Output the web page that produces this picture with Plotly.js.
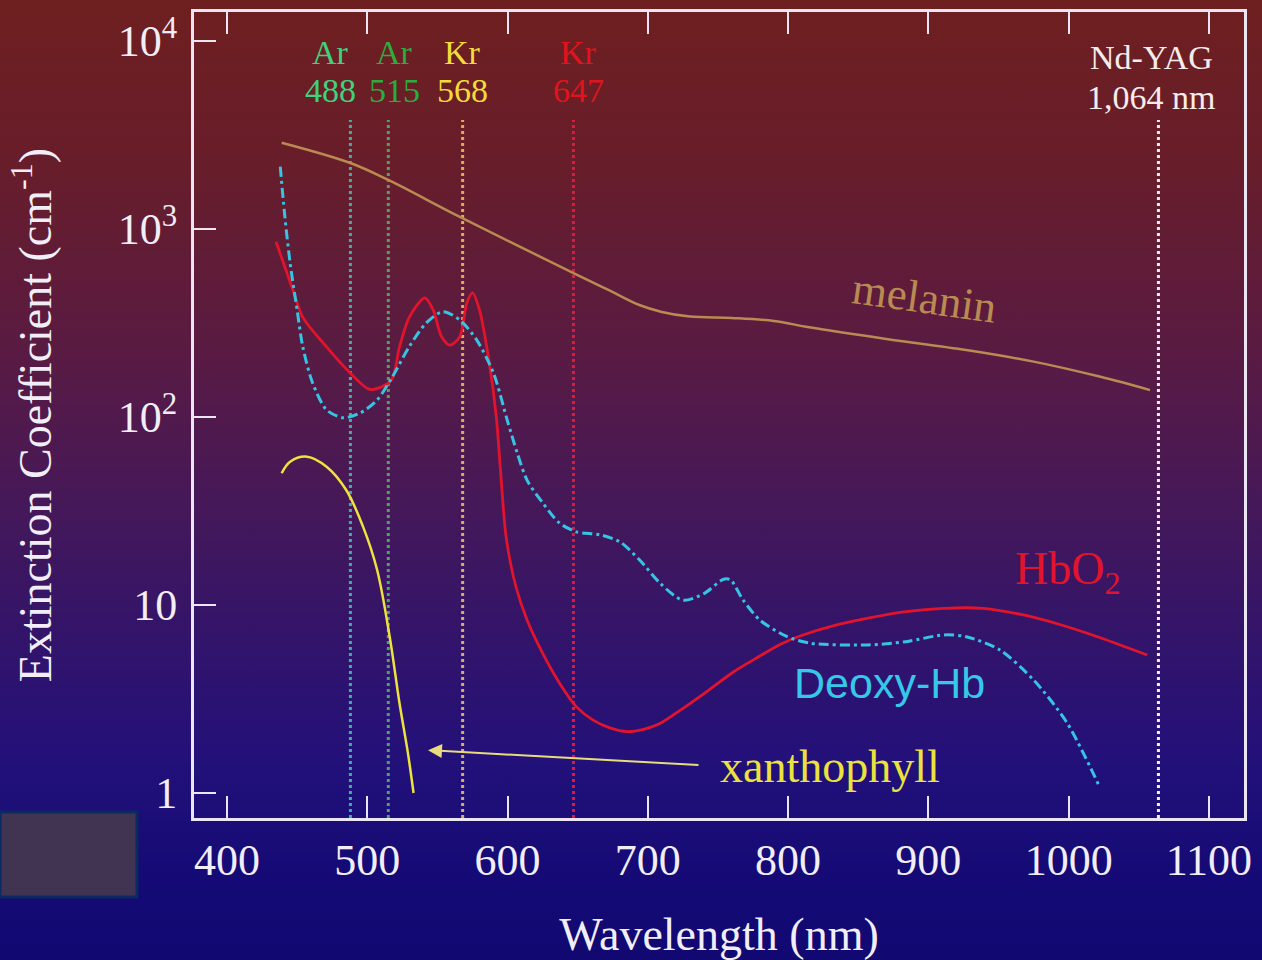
<!DOCTYPE html>
<html>
<head>
<meta charset="utf-8">
<script src="https://cdn.plot.ly/plotly-3.0.1.min.js"></script>
<style>
html,body{margin:0;padding:0;}
body{width:1262px;height:960px;overflow:hidden;
background:linear-gradient(to bottom,#6e1f1f 0%,#671d2b 18%,#5a1b42 36%,#461858 52%,#33146a 66%,#22107a 80%,#160b76 90%,#110872 100%);}
#chart{width:1262px;height:960px;}
</style>
</head>
<body>
<div id="chart"></div>
<script>
// ---- data ----
const melaninNm  = [439, 488, 515, 566, 647, 673, 694, 710, 730, 760, 790, 815, 870, 927, 975, 1022, 1058];
const melaninVal = [2878, 2244, 1823, 1159, 583, 470, 394, 362, 342, 336, 324, 300, 260, 227, 197, 164, 139];

const hbo2Nm  = [435, 447, 454, 471, 488, 502, 517, 523, 530, 541, 547, 553, 559, 566, 571, 575, 580, 587, 592, 595, 599, 606, 614, 625, 637, 649, 661, 673, 685, 697, 709, 723, 744, 761, 779, 795, 810, 830, 857, 884, 911, 939, 966, 993, 1020, 1056];
const hbo2Val = [856, 474, 340, 236, 171, 140, 156, 236, 340, 430, 371, 267, 241, 267, 404, 457, 371, 194, 100, 52, 23, 12.5, 8.3, 5.55, 3.85, 2.88, 2.44, 2.22, 2.12, 2.18, 2.35, 2.75, 3.55, 4.4, 5.3, 6.2, 6.9, 7.67, 8.5, 9.21, 9.6, 9.6, 8.9, 7.9, 6.8, 5.42];

const deoxyNm  = [438, 441, 445, 450, 454, 461, 471, 483, 495, 507, 518, 530, 542, 554, 566, 578, 590, 600, 607, 614, 625, 637, 649, 666, 680, 694, 709, 725, 740, 754, 759, 768, 780, 799, 816, 857, 884, 911, 927, 951, 975, 999, 1022];
const deoxyVal = [2144, 1217, 660, 371, 237, 152, 109, 99, 105, 123, 164, 237, 316, 363, 328, 257, 171, 95, 64, 46, 35, 27.3, 24.5, 23.6, 21.7, 17.4, 13.0, 10.6, 11.5, 13.7, 13.6, 10.6, 8.3, 6.8, 6.26, 6.13, 6.38, 6.93, 6.78, 5.76, 3.99, 2.35, 1.08];

const xanthNm  = [439, 445, 457, 471, 485, 497, 507, 516, 523, 529, 533];
const xanthVal = [50.2, 57.8, 61.5, 54.4, 40.9, 26.1, 15.4, 6.78, 3.0, 1.63, 1.0];

const laserNames = ['Ar', 'Ar', 'Kr', 'Kr', 'Nd-YAG'];
const laserNm    = [488, 515, 568, 647, 1064];
const laserText  = ['488', '515', '568', '647', '1,064 nm'];

const xTickVals = [400, 500, 600, 700, 800, 900, 1000, 1100];
const yTickVals = [1, 10, 100, 1000, 10000];
const yTickText = ['1', '10', '10<sup>2</sup>', '10<sup>3</sup>', '10<sup>4</sup>'];

// ---- styles ----
const laserLineColors = ['#3cb0a2', '#52a262', '#dcae54', '#d81e40', '#f6eef2'];
const laserTextColors = ['#3fd27e', '#2eaa3e', '#f2dc3a', '#e0141e', '#f6ecec'];
const laserXShift = [-20, 6, 0, 5, -7];
const serif = 'Liberation Serif, Times New Roman, serif';
const sans = 'Liberation Sans, Arial, sans-serif';
const axisCol = '#ece6f4';

const traces = [
  {x: melaninNm, y: melaninVal, mode: 'lines', line: {color: '#b98a52', width: 2.5, shape: 'spline', smoothing: 1}, hoverinfo: 'skip'},
  {x: hbo2Nm, y: hbo2Val, mode: 'lines', line: {color: '#e2142c', width: 2.8, shape: 'spline', smoothing: 0.8}, hoverinfo: 'skip'},
  {x: deoxyNm, y: deoxyVal, mode: 'lines', line: {color: '#36c4e4', width: 3, dash: '10px,4px,3px,4px', shape: 'spline', smoothing: 0.8}, hoverinfo: 'skip'},
  {x: xanthNm, y: xanthVal, mode: 'lines', line: {color: '#eee23e', width: 2.5, shape: 'spline', smoothing: 1}, hoverinfo: 'skip'}
];

const shapes = laserNm.map((nm, i) => ({
  type: 'line', xref: 'x', yref: 'paper', x0: nm, x1: nm, y0: 0, y1: 0.866,
  line: {color: laserLineColors[i], width: 3, dash: 'dot'}, layer: 'below'
}));
shapes.push({
  type: 'rect', xref: 'paper', yref: 'paper', x0: -0.1848, x1: -0.0543, y0: -0.098, y1: 0.0074,
  fillcolor: '#403452', line: {color: '#0c2a62', width: 3}
});

const annotations = [];
laserNm.forEach((nm, i) => {
  const isYag = i === 4;
  annotations.push({x: nm, xref: 'x', yref: 'paper', y: isYag ? 0.943 : 0.950, text: laserNames[i],
    showarrow: false, xshift: laserXShift[i], yanchor: 'middle',
    font: {family: serif, size: 34, color: laserTextColors[i]}});
  annotations.push({x: nm, xref: 'x', yref: 'paper', y: isYag ? 0.8945 : 0.903, text: laserText[i],
    showarrow: false, xshift: laserXShift[i], yanchor: 'middle',
    font: {family: serif, size: 34, color: laserTextColors[i]}});
});
annotations.push({x: 897.5, y: Math.log10(430), xref: 'x', yref: 'y', text: 'melanin', showarrow: false, textangle: 8,
  font: {family: serif, size: 45, color: '#b98a52'}});
annotations.push({x: 999.4, y: Math.log10(15), xref: 'x', yref: 'y', text: 'HbO<sub>2</sub>', showarrow: false,
  font: {family: serif, size: 46, color: '#e2142c'}});
annotations.push({x: 872.6, y: Math.log10(3.85), xref: 'x', yref: 'y', text: 'Deoxy-Hb', showarrow: false,
  font: {family: sans, size: 43, color: '#36c8e8'}});
annotations.push({x: 829.8, y: Math.log10(1.375), xref: 'x', yref: 'y', text: 'xanthophyll', showarrow: false,
  font: {family: serif, size: 46, color: '#ece23e'}});
annotations.push({x: 543.3, y: Math.log10(1.69), xref: 'x', yref: 'y', text: '', showarrow: true,
  ax: 272, ay: 15, arrowhead: 2, arrowsize: 1.4, arrowwidth: 2, arrowcolor: '#e8dc7c', standoff: 0});

const layout = {
  width: 1262, height: 960,
  margin: {l: 194, r: 18, t: 12, b: 142},
  paper_bgcolor: 'rgba(0,0,0,0)', plot_bgcolor: 'rgba(0,0,0,0)',
  showlegend: false,
  xaxis: {
    range: [376.5, 1125], tickvals: xTickVals, ticks: 'inside', ticklen: 22, tickwidth: 2, tickcolor: axisCol,
    showline: true, linecolor: axisCol, linewidth: 3, mirror: 'ticks', showgrid: false, zeroline: false,
    tickfont: {family: serif, size: 44, color: '#f2eef8'}, ticklabelstandoff: 1,
    title: {text: 'Wavelength (nm)', font: {family: serif, size: 46, color: '#f2eef8'}, standoff: 36}
  },
  yaxis: {
    type: 'log', range: [Math.log10(0.736), Math.log10(14260)], tickvals: yTickVals, ticktext: yTickText,
    ticks: 'inside', ticklen: 22, tickwidth: 2, tickcolor: axisCol,
    showline: true, linecolor: axisCol, linewidth: 3, mirror: true, showgrid: false, zeroline: false,
    tickfont: {family: serif, size: 44, color: '#f2eef8'}, ticklabelstandoff: 5,
    title: {text: 'Extinction Coefficient (cm<sup>-1</sup>)', font: {family: serif, size: 46, color: '#f2eef8'}, standoff: 52}
  },
  shapes: shapes,
  annotations: annotations
};

Plotly.newPlot('chart', traces, layout, {staticPlot: true, displayModeBar: false});
</script>
</body>
</html>
